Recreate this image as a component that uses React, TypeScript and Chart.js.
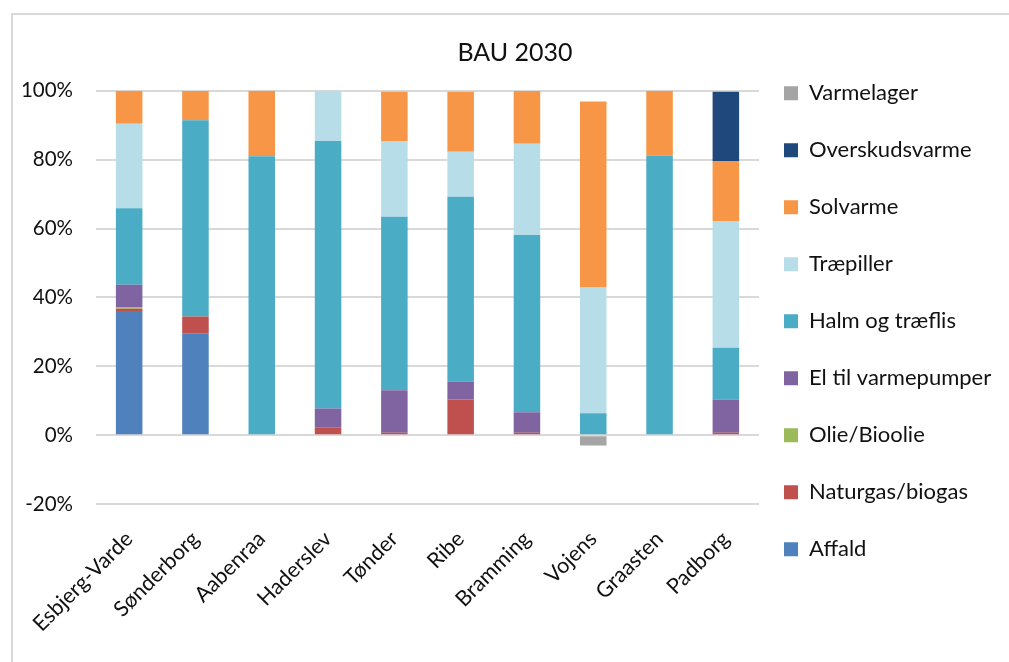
import React, { useEffect, useRef } from 'react';
import { Chart, registerables } from 'chart.js';

Chart.register(...registerables);

const categories = ['Esbjerg-Varde', 'Sønderborg', 'Aabenraa', 'Haderslev', 'Tønder', 'Ribe', 'Bramming', 'Vojens', 'Graasten', 'Padborg'];

const affald = [36.1, 29.6, 0, 0, 0, 0, 0, 0, 0, 0];
const naturgas = [0.6, 4.9, 0, 2.3, 0.7, 10.4, 0.7, 0, 0, 0.7];
const olie = [0.4, 0, 0, 0, 0, 0, 0, 0, 0, 0];
const elVarmepumper = [6.6, 0, 0, 5.5, 12.4, 5.2, 6.0, 0, 0, 9.7];
const halm = [22.2, 56.9, 81.0, 77.6, 50.3, 53.6, 51.4, 6.4, 81.1, 15.0];
const traepiller = [24.5, 0, 0, 14.6, 22.0, 13.1, 26.5, 36.6, 0, 36.8];
const solvarme = [9.6, 8.5, 19.0, 0, 14.3, 17.4, 15.3, 53.9, 18.9, 17.4];
const overskudsvarme = [0, 0, 0, 0, 0, 0, 0, 0, 0, 20.1];
const varmelager = [0, 0, 0, 0, -0.3, -0.3, 0, -3.0, 0, -0.3];

const seriesNames = ['Affald', 'Naturgas/biogas', 'Olie/Bioolie', 'El til varmepumper', 'Halm og træflis', 'Træpiller', 'Solvarme', 'Overskudsvarme', 'Varmelager'];
const seriesValues = [affald, naturgas, olie, elVarmepumper, halm, traepiller, solvarme, overskudsvarme, varmelager];
const seriesColors = ['#4f81bd', '#c0504d', '#9bbb59', '#8064a2', '#4bacc6', '#b7dde8', '#f79646', '#1f497d', '#a5a5a5'];

const yMin = -20;
const yMax = 100;
const yStep = 20;
const title = 'BAU 2030';

const FONT = "Lato, 'Open Sans', sans-serif";
const W = 1009;
const H = 662;

const titleShift = {
  id: 'titleShift',
  afterLayout(chart: any, _args: any, opts: any) {
    const t = chart.titleBlock;
    if (t && opts && typeof opts.dx === 'number') {
      t.left += opts.dx;
      t.right += opts.dx;
    }
  },
};

export default function App() {
  const ref = useRef<HTMLCanvasElement>(null);

  useEffect(() => {
    const canvas = ref.current;
    if (!canvas) return;

    // layout targets
    const plotLeft = 96;
    const plotRight = 759;
    const plotBottom = 504.2;
    const titleCenterX = 515;
    const legendPad = 25;
    const legendBox = 14;
    const legendFont = 22;
    const legendStep = 57;
    const padBottom = 9.4;
    const padLeft = 12;

    const mctx = document.createElement('canvas').getContext('2d')!;
    mctx.font = `${legendFont}px ${FONT}`;
    const maxText = Math.max(...seriesNames.map((n) => mctx.measureText(n).width));
    const legendW = legendPad + legendBox + legendFont / 2 + maxText + 10;
    const padRight = Math.max(0, W - plotRight - legendW);
    const titleDx = titleCenterX - (padLeft + W - padRight) / 2;

    const chart = new Chart(canvas, {
      type: 'bar',
      data: {
        labels: categories,
        datasets: seriesNames.map((name, i) => ({
          label: name,
          data: seriesValues[i],
          backgroundColor: seriesColors[i],
          borderWidth: 0,
          categoryPercentage: 0.8,
          barPercentage: 0.5,
        })),
      },
      plugins: [titleShift],
      options: {
        responsive: false,
        animation: false,
        layout: { padding: { left: padLeft, right: padRight, top: 0, bottom: padBottom } },
        plugins: {
          titleShift: { dx: titleDx },
          title: {
            display: true,
            text: title,
            color: '#111',
            font: { family: FONT, size: 25, weight: 'normal' },
            padding: { top: 38, bottom: 22.7 },
          },
          legend: {
            position: 'right',
            align: 'center',
            reverse: true,
            labels: {
              color: '#111',
              font: { family: FONT, size: legendFont, lineHeight: (legendStep - legendPad) / legendFont },
              boxWidth: legendBox,
              boxHeight: legendBox,
              padding: legendPad,
              generateLabels: (c: any) =>
                Chart.defaults.plugins.legend.labels.generateLabels(c).map((it: any) => ({ ...it, text: [it.text], lineWidth: 0 })),
            },
          },
          tooltip: { enabled: false },
        },
        scales: {
          x: {
            stacked: true,
            grid: { display: false },
            border: { display: false },
            ticks: {
              color: '#111',
              font: { family: FONT, size: 21.5 },
              minRotation: 45,
              maxRotation: 45,
              padding: 14,
            },
            afterFit: (s: any) => {
              s.height = H - padBottom - plotBottom;
            },
          },
          y: {
            stacked: true,
            min: yMin,
            max: yMax,
            grid: { color: '#d9d9d9', lineWidth: 2, drawTicks: false },
            border: { display: false },
            ticks: {
              stepSize: yStep,
              color: '#111',
              font: { family: FONT, size: 20.5 },
              padding: 23,
              callback: (v: any) => `${v}%`,
            },
            afterFit: (s: any) => {
              s.width = plotLeft - padLeft;
            },
          },
        },
      },
    } as any);

    return () => chart.destroy();
  }, []);

  return (
    <div style={{ position: 'fixed', left: 0, top: 0, width: W, height: H, overflow: 'hidden', background: '#fff' }}>
      <div
        style={{
          position: 'absolute',
          left: 11,
          top: 13,
          width: 2000,
          height: 2000,
          borderLeft: '2px solid #d9d9d9',
          borderTop: '2px solid #d9d9d9',
        }}
      />
      <canvas ref={ref} width={W} height={H} style={{ position: 'absolute', left: 0, top: 0 }} />
    </div>
  );
}
